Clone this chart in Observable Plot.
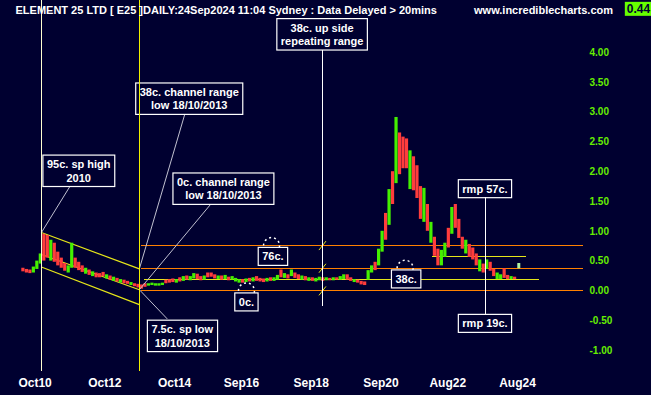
<!DOCTYPE html>
<html><head><meta charset="utf-8">
<script src="https://cdn.jsdelivr.net/npm/d3@7"></script>
<script src="https://cdn.jsdelivr.net/npm/@observablehq/plot@0.6"></script>
<style>
html,body{margin:0;padding:0;background:#000030;overflow:hidden;}
</style>
</head><body><div id="chart"></div>
<script>
const title = "ELEMENT 25 LTD [ E25 ]DAILY:24Sep2024 11:04 Sydney : Data Delayed > 20mins";
const site = "www.incrediblecharts.com";
const lastPrice = "0.44";

// time axis (decimal years)
const xTickDates = [2010.75, 2012.75, 2014.75, 2016.667, 2018.667, 2020.667, 2022.583, 2024.583];
const xTickLabels = ["Oct10","Oct12","Oct14","Sep16","Sep18","Sep20","Aug22","Aug24"];
const yTicks = [-1, -0.5, 0, 0.5, 1, 1.5, 2, 2.5, 3, 3.5, 4];

// price bars (decimal year, low, high, direction g=up r=down)
const barDates = [2010.4,2010.5,2010.6,2010.7,2010.8,2010.9,2011.0,2011.1,2011.2,2011.3,2011.4,2011.5,2011.6,2011.7,2011.8,2011.9,
2012.0,2012.1,2012.2,2012.3,2012.4,2012.5,2012.6,2012.7,2012.8,2012.9,2013.0,2013.1,2013.2,2013.3,2013.4,2013.5,2013.6,2013.7,2013.8,2013.9,
2014.0,2014.1,2014.2,2014.3,2014.4,2014.5,2014.6,2014.7,2014.8,2014.9,2015.0,2015.1,2015.2,2015.3,2015.4,2015.5,2015.6,2015.7,2015.8,2015.9,
2016.0,2016.1,2016.2,2016.3,2016.4,2016.5,2016.6,2016.7,2016.8,2016.9,2017.0,2017.1,2017.2,2017.3,2017.4,2017.5,2017.6,2017.7,2017.8,2017.9,
2018.0,2018.1,2018.2,2018.3,2018.4,2018.5,2018.6,2018.7,2018.8,2018.9,2019.0,2019.1,2019.2,2019.3,2019.4,2019.5,2019.6,2019.7,2019.8,2019.9,
2020.0,2020.1,2020.2,2020.3,2020.4,2020.5,2020.6,2020.7,2020.8,2020.9,2021.0,2021.1,2021.2,2021.3,2021.4,2021.5,2021.6,2021.7,2021.8,2021.9,
2022.0,2022.1,2022.2,2022.3,2022.4,2022.5,2022.6,2022.7,2022.8,2022.9,2023.0,2023.1,2023.2,2023.3,2023.4,2023.5,2023.6,2023.7,2023.8,2023.9,
2024.0,2024.1,2024.2,2024.3,2024.4,2024.5];
const barLows = [0.32,0.30,0.29,0.30,0.36,0.45,0.50,0.55,0.50,0.48,0.42,0.38,0.33,0.30,0.38,0.38,
0.34,0.31,0.28,0.26,0.24,0.22,0.22,0.24,0.20,0.18,0.16,0.15,0.13,0.12,0.11,0.09,0.07,0.05,0.03,0.06,
0.08,0.09,0.08,0.08,0.09,0.12,0.13,0.14,0.13,0.15,0.16,0.18,0.17,0.20,0.19,0.17,0.18,0.22,0.23,0.20,
0.19,0.18,0.19,0.17,0.18,0.15,0.13,0.13,0.14,0.15,0.15,0.16,0.15,0.14,0.15,0.16,0.16,0.18,0.22,0.21,
0.20,0.24,0.21,0.19,0.18,0.17,0.16,0.16,0.15,0.17,0.16,0.17,0.17,0.17,0.18,0.18,0.19,0.18,0.16,0.14,
0.13,0.10,0.09,0.18,0.30,0.34,0.42,0.65,0.85,1.10,1.45,1.80,1.95,2.05,2.05,1.70,1.68,1.55,1.20,1.15,
1.00,0.80,0.58,0.42,0.42,0.56,0.72,0.95,1.05,0.88,0.70,0.62,0.56,0.52,0.42,0.32,0.30,0.36,0.33,0.24,
0.19,0.19,0.21,0.19,0.19,0.19];
const barHighs = [0.38,0.36,0.35,0.40,0.50,0.62,0.95,0.93,0.85,0.80,0.65,0.55,0.46,0.42,0.80,0.55,
0.48,0.42,0.38,0.35,0.32,0.30,0.29,0.31,0.27,0.25,0.23,0.21,0.19,0.18,0.16,0.14,0.12,0.11,0.10,0.12,
0.12,0.13,0.12,0.12,0.13,0.18,0.19,0.20,0.19,0.22,0.24,0.25,0.24,0.29,0.28,0.24,0.25,0.30,0.30,0.27,
0.25,0.25,0.26,0.23,0.24,0.21,0.19,0.19,0.20,0.21,0.22,0.24,0.21,0.20,0.21,0.22,0.22,0.26,0.35,0.29,
0.27,0.35,0.30,0.27,0.25,0.24,0.22,0.22,0.21,0.23,0.22,0.22,0.21,0.22,0.22,0.24,0.27,0.27,0.22,0.19,
0.18,0.16,0.15,0.34,0.42,0.48,0.70,1.00,1.30,1.70,2.00,2.91,2.65,2.58,2.55,2.35,2.25,2.10,1.75,1.72,
1.45,1.15,0.90,0.70,0.68,0.80,1.05,1.40,1.45,1.20,0.90,0.85,0.78,0.72,0.62,0.52,0.45,0.52,0.48,0.36,
0.30,0.27,0.37,0.26,0.24,0.23];
const barDir = ("rrrgggrrgrrrrggr" + "rrgrgrrrgrgrgrrgrrrr" + "ggggg" + "rrrgrgrggrrgrrr" + "grgrgggrgrgrrrgrggrg" +
  "rgrrgrgrggrgrgrggrrg" + "rrrggrggrgrgrrrgrrrg" + "rgrrggrgrrrgrrrgrgrr" + "ggrrgr").split("");
const lastDate = [2024.62], lastLow = [0.37], lastHigh = [0.46];

// channel lines drawn from the 2010 high to the 18/10/2013 low
const chanX1 = [2010.93, 2010.93, 2010.93], chanY1 = [0.98, 0.61, 0.40];
const chanX2 = [2013.74, 2013.74, 2013.74], chanY2 = [0.37, 0.02, -0.23];

// support / resistance levels
const levels = [0.76, 0.38, 0.0];
const levelStart = 2013.8, levelEnd = 2026.45;
const rmpLevels = [0.57, 0.19];
const rmpStart = [2022.12, 2013.86], rmpEnd = [2024.84, 2025.2];

// marker lines
const markerDates = [2010.93, 2013.74];
const repeatDate = 2018.99;

// dashed circles on level touches
const circX = [2017.53, 2021.36, 2016.81], circY = [0.76, 0.38, 0.0];

// annotations
const annLabels = ["95c. sp high\n2010", "38c. channel range\nlow 18/10/2013", "0c. channel range\nlow 18/10/2013",
  "7.5c. sp low\n18/10/2013", "38c. up side\nrepeating range", "76c.", "38c.", "0c.", "rmp 57c.", "rmp 19c."];
const annX = [2012.0, 2015.17, 2016.15, 2014.97, 2018.98, 2017.57, 2021.39, 2016.81, 2023.65, 2023.65];
const annY = [2.02, 3.23, 1.72, -0.75, 4.31, 0.584, 0.206, -0.18, 1.72, -0.54];

// pointer lines from annotations
const ptrX1 = [2011.745, 2015.04, 2015.78, 2013.74], ptrY1 = [1.75, 2.96, 1.45, 0.02];
const ptrX2 = [2010.93, 2013.74, 2013.74, 2014.54], ptrY2 = [0.978, 0.37, 0.02, -0.47];
const vptrX = [2018.99, 2023.67], vptrY1 = [4.04, 1.57], vptrY2 = [-0.25, -0.40];

const BG = "#000030", GREEN = "#44f000", RED = "#ff3c3c", ORANGE = "#ff8000", YEL = "#e6e619", AXG = "#66ee00";
const idx = a => a.map((_, i) => i);

const plot = Plot.plot({
  width: 651, height: 395,
  marginTop: 0, marginBottom: 24, marginLeft: 0, marginRight: 69,
  style: {background: BG, color: "white", overflow: "visible"},
  x: {type: "linear", domain: [2010.75, 2024.583], range: [34.6, 517], axis: null},
  y: {domain: [-1, 4], range: [350, 52], axis: null},
  color: {domain: ["g", "r"], range: [GREEN, RED]},
  marks: [
    Plot.link(levels, {x1: () => levelStart, x2: () => levelEnd, y1: d => d, y2: d => d, stroke: ORANGE, strokeWidth: 1, shapeRendering: "crispEdges"}),
    Plot.link(rmpLevels, {x1: (d, i) => rmpStart[i], x2: (d, i) => rmpEnd[i], y1: d => d, y2: d => d, stroke: YEL, strokeWidth: 1, shapeRendering: "crispEdges"}),
    Plot.link(idx(chanX1), {x1: i => chanX1[i], y1: i => chanY1[i], x2: i => chanX2[i], y2: i => chanY2[i], stroke: YEL, strokeWidth: 1.2}),
    Plot.ruleX(barDates, {x: d => d, y1: (d, i) => barLows[i], y2: (d, i) => barHighs[i], stroke: (d, i) => barDir[i], strokeWidth: 3.2}),
    Plot.ruleX(lastDate, {x: d => d, y1: (d, i) => lastLow[i], y2: (d, i) => lastHigh[i], stroke: "#b0f0a0", strokeWidth: 3}),
    Plot.link(levels, {x1: () => repeatDate - 0.1, x2: () => repeatDate + 0.1, y1: d => d - 0.075, y2: d => d + 0.075, stroke: YEL, strokeWidth: 1}),
    Plot.dot(circX, {x: d => d, y: (d, i) => circY[i], r: 8, stroke: "white", fill: "none", strokeDasharray: "2,3"}),
    Plot.link(idx(ptrX1), {x1: i => ptrX1[i], y1: i => ptrY1[i], x2: i => ptrX2[i], y2: i => ptrY2[i], stroke: "#c0c0d0", strokeWidth: 1}),
    Plot.text(annLabels, {x: (d, i) => annX[i], y: (d, i) => annY[i], text: d => d, fill: "white", fontSize: 11,
      fontWeight: "bold", fontFamily: "Liberation Sans, Arial, sans-serif", lineHeight: 1.22, ariaLabel: () => "annotation"}),
    Plot.link(vptrX, {x1: d => d, x2: d => d, y1: (d, i) => vptrY1[i], y2: (d, i) => vptrY2[i], stroke: "white", strokeWidth: 1, shapeRendering: "crispEdges"}),
    Plot.ruleX(markerDates.slice(0, 1), {x: d => d, stroke: "#ffffd0", strokeWidth: 1, shapeRendering: "crispEdges"}),
    Plot.ruleX(markerDates.slice(1), {x: d => d, stroke: "#f0f000", strokeWidth: 1, shapeRendering: "crispEdges"}),
    Plot.text([title], {frameAnchor: "top-left", dx: 15, dy: 10, textAnchor: "start", lineAnchor: "middle", text: d => d,
      fill: "white", fontSize: 11, fontWeight: "bold", fontFamily: "Liberation Sans Narrow, sans-serif"}),
    Plot.text([site], {frameAnchor: "top-right", dx: 30.5, dy: 10, textAnchor: "end", lineAnchor: "middle", text: d => d,
      fill: "white", fontSize: 11, fontWeight: "bold", fontFamily: "Liberation Sans, Arial, sans-serif"}),
    Plot.text([lastPrice], {frameAnchor: "top-right", dx: 56, dy: 8.5, textAnchor: "middle", lineAnchor: "middle", text: d => d,
      fill: BG, fontSize: 12, fontWeight: "bold", fontFamily: "Liberation Sans Narrow, sans-serif", ariaLabel: () => "lastprice"}),
    Plot.text(yTicks, {y: d => d, frameAnchor: "right", dx: 7, textAnchor: "start", lineAnchor: "middle", text: d => d.toFixed(2),
      fill: AXG, fontSize: 10, fontWeight: "bold", fontFamily: "Liberation Sans, Arial, sans-serif"}),
    Plot.text(xTickDates, {x: d => d, frameAnchor: "bottom", dy: 12, lineAnchor: "middle", text: (d, i) => xTickLabels[i],
      fill: "white", fontSize: 12, fontWeight: "bold", fontFamily: "Liberation Sans Narrow, sans-serif"})
  ]
});
document.getElementById("chart").appendChild(plot);

function boxAround(label, padX, padY, fill, stroke) {
  d3.select(plot).selectAll("text").filter(function () {
    return this.getAttribute("aria-label") === label ||
      (this.parentNode && this.parentNode.getAttribute && this.parentNode.getAttribute("aria-label") === label);
  }).each(function () {
    const b = this.getBBox();
    const r = document.createElementNS("http://www.w3.org/2000/svg", "rect");
    r.setAttribute("x", b.x - padX); r.setAttribute("y", b.y - padY);
    r.setAttribute("width", b.width + 2 * padX); r.setAttribute("height", b.height + 2 * padY);
    r.setAttribute("fill", fill);
    if (stroke) { r.setAttribute("stroke", stroke); r.setAttribute("stroke-width", 1.2); }
    const t = this.getAttribute("transform"); if (t) r.setAttribute("transform", t);
    this.parentNode.insertBefore(r, this);
  });
}
boxAround("annotation", 4, 3, BG, "white");
boxAround("lastprice", 2, 0, "#66ff00", null);
</script>
</body></html>
